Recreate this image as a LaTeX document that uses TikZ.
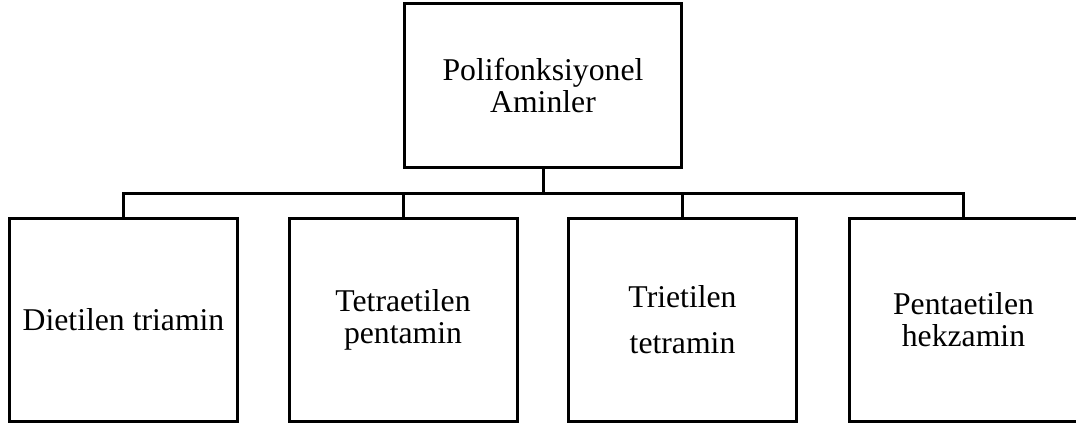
\documentclass[tikz,border=0pt]{standalone}
\usepackage{fontspec}
\setmainfont{Liberation Serif}
\usepackage{tikz}

\begin{document}
\begin{tikzpicture}[x=0.5pt, y=-0.5pt,
		every node/.style={font=\fontsize{15.85}{16}\selectfont, align=center},
		kutu/.style={draw, line width=1.5pt, minimum width=114pt, minimum height=101.5pt, inner sep=0pt},
		bag/.style={line width=1.5pt}]
	
	\useasboundingbox (0,0) rectangle (1076,429);
	\clip (0,0) rectangle (1076,429);
	
	% top box
	\node[kutu, minimum width=138.5pt, minimum height=82pt] (amin) at (543,85.5) {Polifonksiyonel\\Aminler};
	
	% lower boxes
	\node[kutu] (dieti) at (123.5,320) {Dietilen triamin};
	\node[kutu] (tetra) at (403,320) {Tetraetilen\\pentamin};
	\node[kutu] (trieti) at (682.5,320) {Trietilen\\[7pt]tetramin};
	\node[kutu] (penta) at (963.5,320) {Pentaetilen\\hekzamin};
	
	% connectors
	\coordinate (bus) at (543,193);
	\draw[bag] (amin.south) -- (bus);
	\draw[bag] (bus) -| (dieti.north);
	\draw[bag] (bus) -| (tetra.north);
	\draw[bag] (bus) -| (trieti.north);
	\draw[bag] (bus) -| (penta.north);
	
\end{tikzpicture}
\end{document}
